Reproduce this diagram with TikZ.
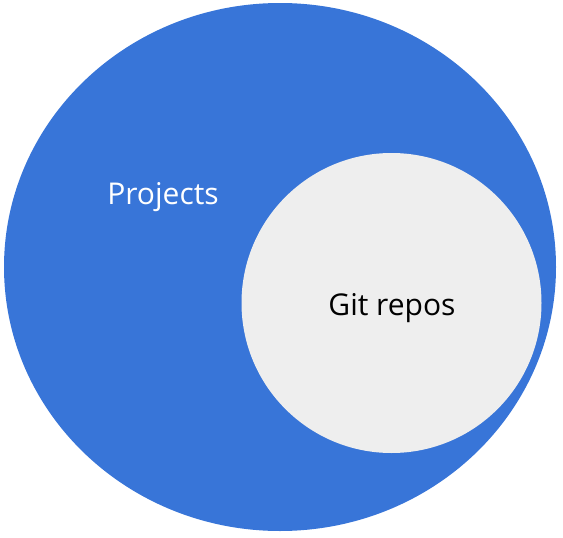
\documentclass[tikz,border=0pt]{standalone}
\usepackage{fontspec}
\setmainfont{Open Sans}
\definecolor{projblue}{HTML}{3875D8}
\definecolor{repogrey}{HTML}{EEEEEE}
\begin{document}
\begin{tikzpicture}[x=1pt,y=-1pt,
  lbl/.style={font=\fontsize{30}{34}\selectfont, inner sep=0pt, anchor=base}]
\useasboundingbox (0,0) rectangle (563,538);
\fill[projblue] (280,267) ellipse [x radius=276, y radius=264];
\node[lbl, text=white] (projects) at (163,204) {Projects};
\node[circle, fill=repogrey, minimum size=300pt, inner sep=0pt] (repos) at (391.5,303) {};
\node[lbl, text=black] (gitrepos) at (392,315) {Git repos};
\end{tikzpicture}
\end{document}
